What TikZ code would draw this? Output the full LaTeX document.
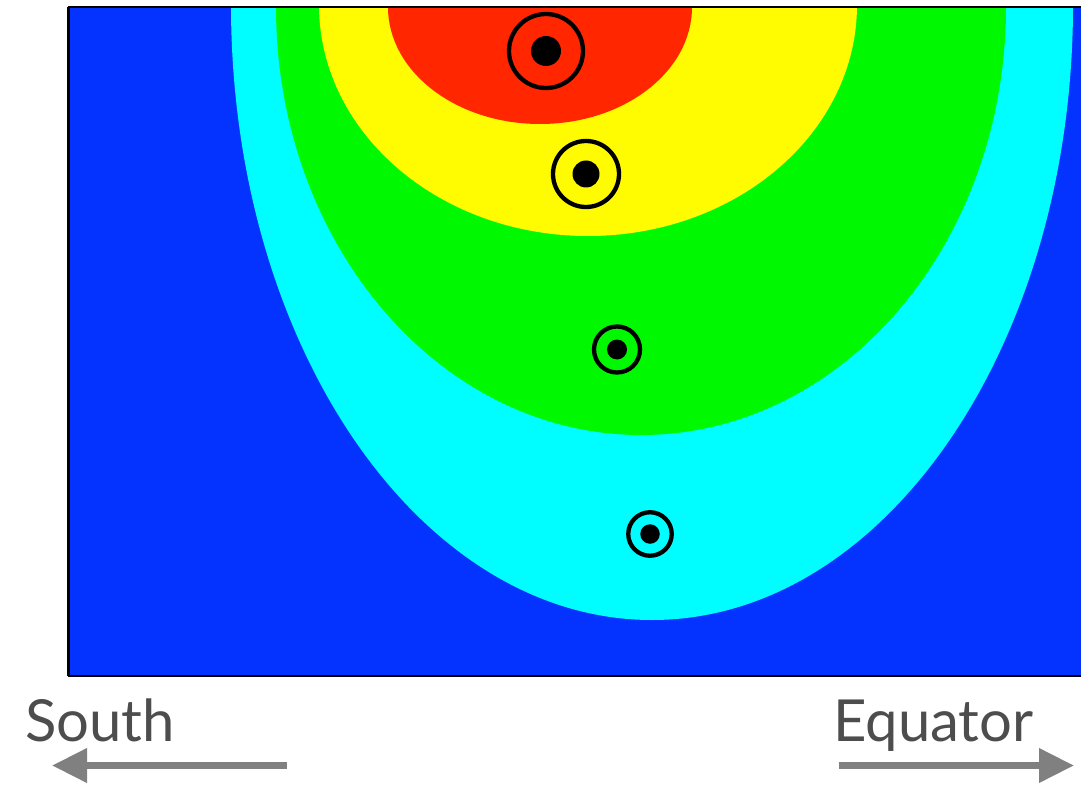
\documentclass[tikz,border=0pt]{standalone}
\usepackage{fontspec}
\setmainfont{Lato}
\usetikzlibrary{arrows.meta}
\definecolor{zoneblue}{HTML}{0433FF}
\definecolor{zonecyan}{HTML}{00FDFF}
\definecolor{zonegreen}{HTML}{00F900}
\definecolor{zoneyellow}{HTML}{FFFB00}
\definecolor{zonered}{HTML}{FF2600}
\definecolor{labelgray}{HTML}{4D4D4D}
\definecolor{arrowgray}{HTML}{808080}
\tikzset{
  ring/.style={circle, draw=black, line width=4.3pt, inner sep=0pt},
  core/.style={circle, fill=black, inner sep=0pt},
  dirlabel/.style={text=labelgray, font=\fontsize{58}{60}\selectfont, inner sep=0pt},
  dirarrow/.style={draw=arrowgray, line width=7pt, -{Triangle[length=35pt,width=33pt]}}
}
\begin{document}
\begin{tikzpicture}[x=1pt,y=-1pt]
                \useasboundingbox (0,0) rectangle (1091,786);
                % zones
                \fill[zoneblue] (68,7) rectangle (1081,676);
                \begin{scope}
                  \clip (68,7) rectangle (1081,676);
                  \fill[zonecyan] (652,5) ellipse [x radius=421pt, y radius=615pt];
                  \fill[zonegreen] (641,7) ellipse [x radius=365pt, y radius=428pt];
                  \fill[zoneyellow] (588,5) ellipse [x radius=269pt, y radius=231pt];
                  \fill[zonered] (540,7) ellipse [x radius=152pt, y radius=117pt];
                \end{scope}
                \draw [line width=3pt] (68.5,676) -- (68.5,7);
                \draw [line width=2pt] (68,7) -- (1081,7);
                \draw [line width=2pt] (68,676) -- (1081,676);
                % markers
                \foreach \n/\x/\y/\r/\d in {a/546/51/74/30, b/586/174/66/27, c/617/349.5/46/20, d/650/534/43.5/19.5} {
                  \node [ring, minimum size=\r pt] (ring\n) at (\x,\y) {};
                  \node [core, minimum size=\d pt] (core\n) at (ring\n.center) {};
                }
                % directions
                \node [dirlabel, anchor=base west] (south) at (25,741.5) {South};
                \node [dirlabel, anchor=base west] (equator) at (833,741) {Equator};
                \coordinate (southstart) at (287,765.5);
                \coordinate (southend) at (52,765.5);
                \coordinate (eqstart) at (839,765.5);
                \coordinate (eqend) at (1074,765.5);
                \draw [dirarrow] (southstart) -- (southend);
                \draw [dirarrow] (eqstart) -- (eqend);
\end{tikzpicture}
\end{document}
